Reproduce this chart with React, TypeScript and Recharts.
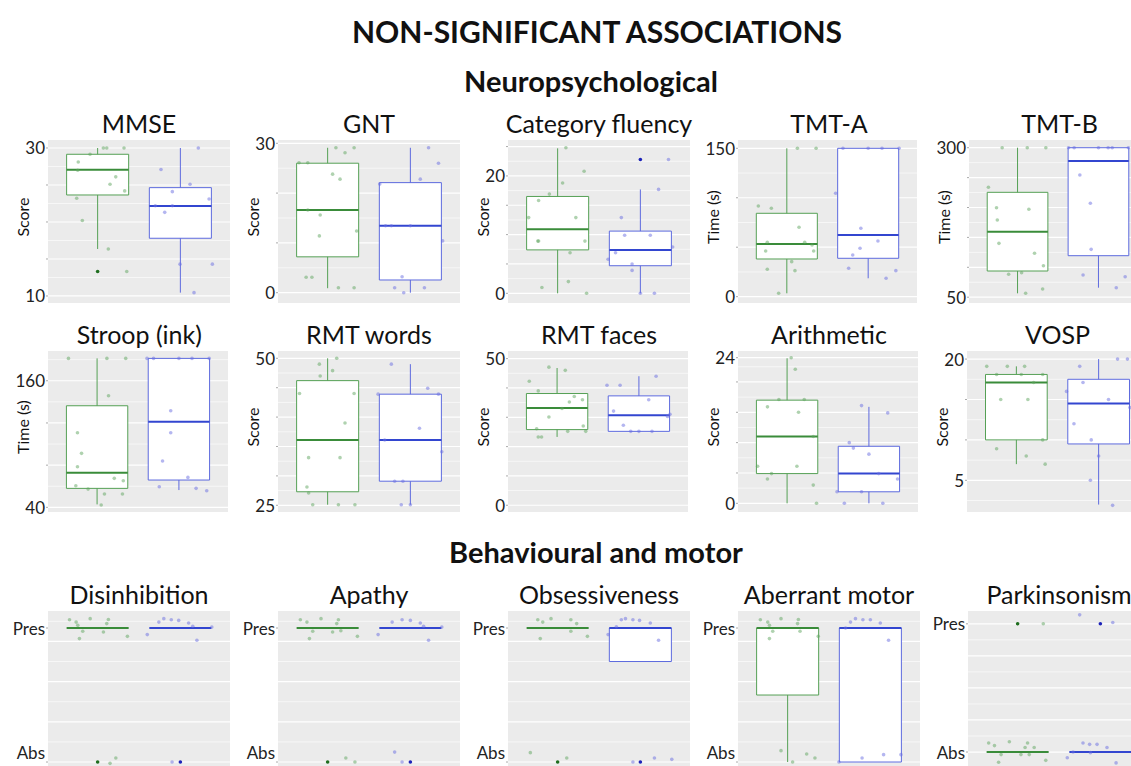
import React from 'react';
import {
  ComposedChart,
  Scatter,
  XAxis,
  YAxis,
  CartesianGrid,
  ReferenceArea,
  ReferenceLine,
} from 'recharts';

// box stats per group: [lowWhisker, q1, median, q3, highWhisker]
type Box = [number, number, number, number, number];
// jittered point: [offset from group centre, value]
type Pt = [number, number];
// outlier: [group (1|2), value]
type Out = [number, number];

// ---------- Neuropsychological ----------
const mmseBoxes: Box[] = [[16.35, 23.65, 27.07, 29.15, 30], [10.45, 17.8, 22.16, 24.64, 30]];
const mmseGreen: Pt[] = [[-0.234, 28.1], [-0.092, 29.15], [-0.241, 27.0], [0.219, 26.1], [0.15, 25.1], [0.327, 24.2], [-0.253, 23.2], [-0.185, 20.2], [0.129, 16.35], [0.352, 13.3], [0.069, 30], [0.11, 30], [0.319, 30]];
const mmseBlue: Pt[] = [[0.217, 30], [-0.234, 27.1], [0.117, 25.1], [-0.097, 24.1], [0.347, 23.1], [-0.303, 22.2], [-0.097, 22.2], [-0.189, 21.3], [-0.004, 14.3], [0.387, 14.3], [0.165, 10.45]];
const mmseOut: Out[] = [[1, 13.3]];

const gntBoxes: Box[] = [[0.9, 7.2, 16.6, 26.0, 29.1], [0, 2.55, 13.45, 22.1, 29.1]];
const gntGreen: Pt[] = [[-0.346, 26.1], [-0.24, 26.1], [0.1, 29.1], [0.21, 28.1], [0.32, 29.1], [0.06, 23.8], [0.15, 22.8], [-0.24, 16.6], [-0.09, 15.6], [-0.1, 11.4], [0.35, 12.4], [-0.26, 3.1], [-0.19, 3.1], [0.13, 1.0], [0.32, 1.0]];
const gntBlue: Pt[] = [[0.22, 29.1], [0.34, 26.0], [0.12, 22.8], [-0.37, 21.8], [-0.3, 13.45], [-0.23, 13.45], [0, 13.45], [0.39, 10.4], [-0.1, 3.2], [-0.19, 1.0], [-0.08, 0], [0.17, 1.0]];
const gntOut: Out[] = [];

const fluBoxes: Box[] = [[0, 7.4, 10.9, 16.5, 24.7], [0, 4.7, 7.4, 10.6, 17.7]];
const fluGreen: Pt[] = [[0.1, 24.8], [0.32, 20.8], [0.06, 18.8], [-0.1, 16.9], [-0.23, 15.8], [-0.35, 12.9], [0.22, 12.9], [-0.24, 8.9], [-0.23, 8.9], [0.33, 8.9], [0.15, 6.9], [0.13, 2.0], [-0.19, 1.0], [0.35, 0]];
const fluBlue: Pt[] = [[0.34, 22.8], [0.22, 17.7], [-0.23, 12.9], [-0.19, 9.9], [0.12, 9.9], [0.39, 7.9], [-0.3, 6.9], [-0.39, 5.8], [-0.1, 5.0], [-0.1, 3.9], [0, 0], [0.17, 0]];
const fluOut: Out[] = [[2, 22.8]];

const tmtaBoxes: Box[] = [[3.4, 38.1, 53.3, 84.3, 150], [18.6, 38.8, 62.4, 150, 150]];
const tmtaGreen: Pt[] = [[0.13, 150], [0.36, 150], [-0.35, 91.7], [-0.19, 89.4], [0.15, 70.2], [-0.24, 55], [0.22, 55], [0.31, 52.3], [-0.26, 46.2], [0.33, 46.2], [0.06, 35.4], [-0.24, 27.7], [0.1, 26.3], [-0.1, 3.4]];
const tmtaBlue: Pt[] = [[-0.31, 150], [0, 150], [0.17, 150], [0.38, 150], [-0.4, 104.5], [-0.09, 69.2], [0.12, 56.3], [-0.1, 48.9], [-0.19, 42.2], [-0.24, 28.7], [0.22, 18.6], [0.34, 26.3]];
const tmtaOut: Out[] = [];

const tmtbBoxes: Box[] = [[56.5, 93.8, 159.5, 225.4, 300], [65.9, 119.4, 277.8, 300, 300]];
const tmtbGreen: Pt[] = [[-0.19, 300], [0.12, 300], [0.35, 300], [-0.36, 233.8], [-0.26, 199.7], [0.14, 197], [-0.25, 179.1], [-0.23, 140.1], [0.21, 123.4], [0.32, 102.7], [-0.11, 88.3], [0.05, 91], [0.1, 56.5], [0.31, 63.7]];
const tmtbBlue: Pt[] = [[-0.37, 300], [-0.3, 300], [0, 300], [0.12, 300], [0.17, 300], [0.37, 300], [-0.23, 254.3], [-0.1, 207], [-0.09, 130], [-0.19, 87.1], [0.33, 84.3], [0.22, 65.9]];
const tmtbOut: Out[] = [];

const stroopBoxes: Box[] = [[42.8, 58.0, 72.8, 136.3, 181.2], [56.4, 65.9, 121.1, 181.2, 181.2]];
const stroopGreen: Pt[] = [[-0.35, 181.2], [0.12, 181.2], [0.35, 181.2], [0.14, 145.8], [-0.24, 110.7], [-0.19, 91.2], [-0.24, 78.5], [0.21, 67.5], [0.32, 65.2], [-0.26, 60.5], [-0.11, 57.3], [0.09, 52.6], [0.31, 52.6], [0.05, 42.2]];
const stroopBlue: Pt[] = [[-0.39, 181.2], [-0.31, 181.2], [0, 181.2], [0.16, 181.2], [0.37, 181.2], [-0.1, 131.6], [-0.1, 110.7], [-0.2, 83.9], [0.11, 68.4], [-0.24, 59.5], [0.21, 58], [0.34, 55.7]];
const stroopOut: Out[] = [];

const rmtwBoxes: Box[] = [[25.1, 27.3, 36.1, 46.2, 50], [25.1, 29.1, 36.1, 43.9, 49.0]];
const rmtwGreen: Pt[] = [[-0.1, 49], [0.11, 50], [0.06, 47.9], [-0.09, 47], [-0.34, 44], [0.32, 44], [0.21, 39], [-0.23, 33.1], [0.15, 33.1], [-0.25, 28.1], [-0.23, 27.1], [-0.18, 25.1], [0.13, 25.1], [0.33, 25.1]];
const rmtwBlue: Pt[] = [[-0.23, 49], [0.21, 44.9], [-0.39, 43.9], [0.34, 43.9], [0.11, 38.1], [-0.31, 36.1], [0.38, 34.1], [-0.19, 29.1], [-0.09, 29.1], [-0.11, 25.1], [0, 25.1]];
const rmtwOut: Out[] = [];

const rmtfBoxes: Box[] = [[23.3, 25.8, 33.2, 38.1, 46.8], [25.2, 25.2, 30.7, 37.3, 44.0]];
const rmtfGreen: Pt[] = [[-0.1, 47.1], [0.1, 46.0], [-0.34, 42.3], [-0.23, 39], [0.21, 37.1], [0.15, 35.2], [0.31, 36], [0.06, 33], [-0.1, 30.1], [-0.25, 26.1], [0.32, 27], [0.13, 25.2], [0.35, 25.2], [-0.23, 23.3], [-0.19, 23.3]];
const rmtfBlue: Pt[] = [[-0.39, 40.9], [-0.23, 40.9], [0.21, 44], [0.12, 36], [-0.31, 32.1], [0.38, 31], [0.35, 30.3], [-0.19, 27.3], [-0.1, 25.2], [0, 25.2], [0.16, 25.2]];
const rmtfOut: Out[] = [];

const arithBoxes: Box[] = [[0, 4.9, 11.0, 17.0, 23.9], [0, 1.9, 4.9, 9.4, 15.9]];
const arithGreen: Pt[] = [[0.05, 24], [0.1, 22.1], [-0.1, 17.1], [0.21, 17.1], [-0.24, 15.9], [0.14, 15], [0.32, 11], [-0.36, 6.1], [0.12, 6.1], [-0.19, 4.9], [-0.24, 4], [0.32, 3], [0.36, 0]];
const arithBlue: Pt[] = [[-0.09, 16.1], [0.23, 14.9], [-0.24, 10], [-0.19, 9.1], [0, 8.1], [0.12, 4.9], [0.35, 4], [-0.39, 1.9], [-0.09, 1.9], [-0.3, 0], [0.17, 0]];
const arithOut: Out[] = [];

const vospBoxes: Box[] = [[7.0, 10.0, 17.1, 18.1, 19.1], [2.0, 9.5, 14.5, 17.5, 20]];
const vospGreen: Pt[] = [[-0.36, 19.1], [-0.11, 19.1], [0.1, 19.1], [-0.24, 18.1], [0.06, 18.1], [0.32, 18.1], [0.21, 17.1], [-0.19, 15], [0.14, 15], [0.32, 10], [-0.24, 8.9], [0.12, 8], [0.35, 7]];
const vospBlue: Pt[] = [[0.23, 20], [0.35, 20], [-0.23, 19.1], [-0.19, 17.1], [-0.39, 16], [0.12, 15], [0.38, 14], [-0.3, 12], [-0.09, 10], [0, 8], [-0.1, 5], [0.17, 1.9]];
const vospOut: Out[] = [];

// ---------- Behavioural and motor (0 = Abs, 1 = Pres) ----------
const disBoxes: Box[] = [[1, 1, 1, 1, 1], [1, 1, 1, 1, 1]];
const disGreen: Pt[] = [[-0.34, 1.062], [-0.26, 1.044], [-0.24, 1.02], [-0.09, 1.07], [0.13, 1.064], [0.11, 1.033], [-0.18, 0.976], [0.07, 0.97], [-0.22, 0.921], [0.36, 0.938], [0.15, -0.01], [0.22, 0.03]];
const disBlue: Pt[] = [[-0.4, 0.951], [-0.26, 1.044], [-0.2, 1.07], [-0.11, 1.062], [-0.02, 1.057], [0.1, 1.037], [0.15, 1.013], [0.38, 1.007], [0.2, 0.909], [-0.1, 0]];
const disOut: Out[] = [[1, 0], [2, 0]];

const apaBoxes: Box[] = [[1, 1, 1, 1, 1], [1, 1, 1, 1, 1]];
const apaGreen: Pt[] = [[-0.33, 1.062], [-0.25, 1.044], [-0.18, 0.976], [-0.08, 1.07], [0.13, 1.062], [0.11, 1.033], [0.16, 0.98], [0.06, 0.97], [-0.22, 0.921], [0.36, 0.938], [0.22, 0.03], [0.33, 0]];
const apaBlue: Pt[] = [[-0.39, 0.951], [-0.22, 1.044], [-0.1, 1.062], [0, 1.057], [0.12, 1.037], [0.16, 1.013], [0.38, 1.007], [0.22, 0.909], [-0.19, 0.074], [-0.1, 0]];
const apaOut: Out[] = [[1, 0], [2, 0]];

const obsBoxes: Box[] = [[1, 1, 1, 1, 1], [0.75, 0.75, 1, 1, 1]];
const obsGreen: Pt[] = [[-0.24, 1.062], [-0.18, 1.044], [-0.21, 0.921], [-0.08, 1.07], [0.16, 1.062], [0.23, 1.033], [0.16, 0.976], [0.36, 0.938], [-0.33, 0.07], [0.11, 0.03]];
const obsBlue: Pt[] = [[-0.39, 0.951], [-0.29, 1.01], [-0.23, 1.062], [-0.18, 1.07], [-0.09, 1.062], [-0.01, 1.057], [0.12, 1.037], [0.22, 0.909], [-0.09, 0], [0.17, 0.03], [0.38, 0.02]];
const obsOut: Out[] = [[1, 0], [2, 0]];

const abmBoxes: Box[] = [[0, 0.5, 1, 1, 1], [0, 0, 1, 1, 1]];
const abmGreen: Pt[] = [[-0.33, 1.062], [-0.24, 1.044], [-0.22, 1.02], [-0.08, 1.07], [0.13, 1.064], [0.12, 1.033], [-0.18, 0.976], [0.15, 0.976], [-0.22, 0.921], [0.37, 0.938], [-0.08, 0.085], [0.06, 0], [0.23, 0.06], [0.33, 0.03]];
const abmBlue: Pt[] = [[-0.3, 1.0], [-0.24, 1.044], [-0.18, 1.07], [-0.09, 1.062], [0, 1.062], [0.12, 1.037], [0.22, 0.909], [-0.38, 0], [-0.1, 0.03], [0.16, 0.055], [0.37, 0.055]];
const abmOut: Out[] = [];

const parkBoxes: Box[] = [[0, 0, 0, 0, 0], [0, 0, 0, 0, 0]];
const parkGreen: Pt[] = [[0.31, 1.0], [-0.35, 0.07], [-0.28, 0.05], [-0.2, -0.02], [-0.1, 0.08], [-0.23, -0.08], [0.12, 0.07], [0.09, 0.035], [0.2, 0.035], [0.04, -0.02], [0.14, -0.02], [0.34, -0.065]];
const parkBlue: Pt[] = [[-0.25, 1.07], [0.15, 1.01], [-0.4, -0.045], [-0.33, 0], [-0.21, 0.07], [-0.13, 0.06], [-0.04, 0.06], [0.08, 0.035], [-0.12, -0.005], [0.19, -0.085]];
const parkOut: Out[] = [[1, 1], [2, 1]];

// ---------- colours / layout ----------
const GREEN = '#55a055';
const GREEN_MED = '#3a8c3a';
const BLUE = '#5d6ade';
const BLUE_MED = '#3346d0';
const GREEN_PT = 'rgba(95,165,95,0.5)';
const BLUE_PT = 'rgba(105,110,225,0.5)';
const GREEN_OUT = '#1f6e1f';
const BLUE_OUT = '#1c22b8';
const PANEL_BG = '#EBEBEB';
const FONT = 'Lato, "Open Sans", sans-serif';
const Y_W = 46;
const X_H = 8;
const PAD_T = 12;
const HALF = 0.375;

interface Panel {
  title: string;
  yLabel?: string;
  boxes: Box[];
  green: Pt[];
  blue: Pt[];
  out: Out[];
  domain: [number, number];
  major: number[];
  minor: number[];
  labels: Record<string, string>;
  labelShift?: Record<string, number>;
  left: number;
  top: number;
  w: number;
  h: number;
}

const steps = (a: number, b: number, s: number) => {
  const r: number[] = [];
  for (let v = a; v <= b + 1e-9; v += s) r.push(Math.round(v * 1000) / 1000);
  return r;
};

const R1 = 140, R1H = 163, R2 = 351, R2H = 161, R3 = 611, R3H = 160;
const binMajor = [0, 0.3, 0.6, 0.9];
const binMinor = [0.15, 0.45, 0.75, 1.05];
const binLabels = { '1': 'Pres', '0': 'Abs' };

const panels: Panel[] = [
  { title: 'MMSE', yLabel: 'Score', boxes: mmseBoxes, green: mmseGreen, blue: mmseBlue, out: mmseOut, domain: [9.05, 31.08], major: steps(10, 30, 5), minor: steps(12.5, 27.5, 5), labels: { '30': '30', '10': '10' }, left: 48, top: R1, w: 182, h: R1H },
  { title: 'GNT', yLabel: 'Score', boxes: gntBoxes, green: gntGreen, blue: gntBlue, out: gntOut, domain: [-2.07, 30.66], major: steps(0, 30, 10), minor: steps(5, 25, 10), labels: { '30': '30', '0': '0' }, left: 278, top: R1, w: 182, h: R1H },
  { title: 'Category fluency', yLabel: 'Score', boxes: fluBoxes, green: fluGreen, blue: fluBlue, out: fluOut, domain: [-1.65, 26.12], major: steps(0, 25, 5), minor: steps(2.5, 22.5, 5), labels: { '20': '20', '0': '0' }, left: 508, top: R1, w: 182, h: R1H },
  { title: 'TMT-A', yLabel: 'Time (s)', boxes: tmtaBoxes, green: tmtaGreen, blue: tmtaBlue, out: tmtaOut, domain: [-6.4, 158.4], major: steps(0, 150, 50), minor: steps(25, 125, 50), labels: { '150': '150', '0': '0' }, left: 738, top: R1, w: 179, h: R1H },
  { title: 'TMT-B', yLabel: 'Time (s)', boxes: tmtbBoxes, green: tmtbGreen, blue: tmtbBlue, out: tmtbOut, domain: [40.3, 312.9], major: steps(50, 300, 50), minor: steps(75, 275, 50), labels: { '300': '300', '50': '50' }, left: 968.7, top: R1, w: 178, h: R1H },

  { title: 'Stroop (ink)', yLabel: 'Time (s)', boxes: stroopBoxes, green: stroopGreen, blue: stroopBlue, out: stroopOut, domain: [35.6, 188.2], major: steps(40, 160, 40), minor: steps(60, 180, 40), labels: { '160': '160', '40': '40' }, left: 48.3, top: R2, w: 180, h: R2H },
  { title: 'RMT words', yLabel: 'Score', boxes: rmtwBoxes, green: rmtwGreen, blue: rmtwBlue, out: rmtwOut, domain: [23.86, 51.24], major: steps(25, 50, 5), minor: steps(27.5, 47.5, 5), labels: { '50': '50', '25': '25' }, left: 278, top: R2, w: 182, h: R2H },
  { title: 'RMT faces', yLabel: 'Score', boxes: rmtfBoxes, green: rmtfGreen, blue: rmtfBlue, out: rmtfOut, domain: [-2.3, 52.6], major: steps(0, 50, 10), minor: steps(5, 45, 10), labels: { '50': '50', '0': '0' }, left: 508, top: R2, w: 180, h: R2H },
  { title: 'Arithmetic', yLabel: 'Score', boxes: arithBoxes, green: arithGreen, blue: arithBlue, out: arithOut, domain: [-1.43, 25.1], major: [0, 5, 10, 15, 20, 24], minor: steps(2.5, 22.5, 5), labels: { '24': '24', '0': '0' }, left: 738, top: R2, w: 180, h: R2H },
  { title: 'VOSP', yLabel: 'Score', boxes: vospBoxes, green: vospGreen, blue: vospBlue, out: vospOut, domain: [1.08, 21.0], major: steps(5, 20, 5), minor: steps(2.5, 17.5, 5), labels: { '20': '20', '5': '5' }, left: 966.6, top: R2, w: 181, h: R2H },

  { title: 'Disinhibition', boxes: disBoxes, green: disGreen, blue: disBlue, out: disOut, domain: [-0.067, 1.127], major: binMajor, minor: binMinor, labels: binLabels, labelShift: { '0': -10 }, left: 48, top: R3, w: 182, h: R3H },
  { title: 'Apathy', boxes: apaBoxes, green: apaGreen, blue: apaBlue, out: apaOut, domain: [-0.067, 1.127], major: binMajor, minor: binMinor, labels: binLabels, labelShift: { '0': -10 }, left: 278, top: R3, w: 182, h: R3H },
  { title: 'Obsessiveness', boxes: obsBoxes, green: obsGreen, blue: obsBlue, out: obsOut, domain: [-0.067, 1.127], major: binMajor, minor: binMinor, labels: binLabels, labelShift: { '0': -10 }, left: 508, top: R3, w: 182, h: R3H },
  { title: 'Aberrant motor', boxes: abmBoxes, green: abmGreen, blue: abmBlue, out: abmOut, domain: [-0.067, 1.127], major: binMajor, minor: binMinor, labels: binLabels, labelShift: { '0': -10 }, left: 738, top: R3, w: 182, h: R3H },
  { title: 'Parkinsonism', boxes: parkBoxes, green: parkGreen, blue: parkBlue, out: parkOut, domain: [-0.148, 1.1], major: [0, 0.25, 0.5, 0.75, 1], minor: [0.125, 0.375, 0.625, 0.875], labels: binLabels, left: 968, top: R3, w: 182, h: R3H },
];

const dot = (fill: string) => (props: any) => (
  <circle cx={props.cx} cy={props.cy} r={1.8} fill={fill} />
);

function BoxPlot({ p }: { p: Panel }) {
  const isBinary = p.labels['1'] === 'Pres';
  const ticks = isBinary ? [0, 1] : p.major.filter((v) => v <= p.domain[1]);
  const green = p.green.map(([dx, y]) => ({ x: 1 + dx, y }));
  const blue = p.blue.map(([dx, y]) => ({ x: 2 + dx, y }));
  const outG = p.out.filter((o) => o[0] === 1).map(([g, y]) => ({ x: g, y }));
  const outB = p.out.filter((o) => o[0] === 2).map(([g, y]) => ({ x: g, y }));

  const renderTick = (props: any) => {
    const key = String(props.payload.value);
    const label = p.labels[key];
    if (!label) return <g />;
    const shift = p.labelShift?.[key] ?? 0;
    return (
      <text x={props.x} y={props.y + shift} textAnchor="end" dominantBaseline="central" fontSize={17} fill="#222" fontFamily={FONT}>
        {label}
      </text>
    );
  };

  const groups = [
    { g: 1, box: p.boxes[0], col: GREEN, med: GREEN_MED },
    { g: 2, box: p.boxes[1], col: BLUE, med: BLUE_MED },
  ];

  return (
    <div style={{ position: 'absolute', left: p.left - Y_W, top: p.top - PAD_T }}>
      <ComposedChart width={Y_W + p.w} height={p.h + X_H + PAD_T} margin={{ top: PAD_T, right: 0, bottom: 0, left: 0 }}>
        <CartesianGrid fill={PANEL_BG} stroke="#fff" strokeWidth={0.6} horizontalValues={p.minor} vertical={false} />
        <CartesianGrid stroke="#fff" strokeWidth={1.2} horizontalValues={p.major} verticalValues={[1, 2]} />
        <XAxis type="number" dataKey="x" domain={[0.4, 2.6]} ticks={[1, 2]} tick={false} tickSize={3} axisLine={false} tickLine={{ stroke: '#aaa' }} height={X_H} allowDataOverflow />
        <YAxis
          type="number"
          dataKey="y"
          domain={p.domain}
          ticks={ticks}
          interval={0}
          allowDataOverflow
          axisLine={false}
          width={Y_W}
          tickSize={2}
          tickMargin={1}
          tickLine={{ stroke: '#aaa' }}
          tick={renderTick}
        />
        {groups.map(({ g, box, col }) => (
          <ReferenceArea key={`b${g}`} x1={g - HALF} x2={g + HALF} y1={box[1]} y2={box[3]} fill="#fff" fillOpacity={1} stroke={col} strokeWidth={1} ifOverflow="visible" />
        ))}
        {groups.map(({ g, box, col }) => (
          <ReferenceLine key={`wh${g}`} segment={[{ x: g, y: box[3] }, { x: g, y: box[4] }]} stroke={col} strokeWidth={1} ifOverflow="visible" />
        ))}
        {groups.map(({ g, box, col }) => (
          <ReferenceLine key={`wl${g}`} segment={[{ x: g, y: box[0] }, { x: g, y: box[1] }]} stroke={col} strokeWidth={1} ifOverflow="visible" />
        ))}
        {groups.map(({ g, box, med }) => (
          <ReferenceLine key={`m${g}`} segment={[{ x: g - HALF, y: box[2] }, { x: g + HALF, y: box[2] }]} stroke={med} strokeWidth={2} ifOverflow="visible" />
        ))}
        <Scatter data={green} shape={dot(GREEN_PT)} isAnimationActive={false} />
        <Scatter data={blue} shape={dot(BLUE_PT)} isAnimationActive={false} />
        <Scatter data={outG} shape={dot(GREEN_OUT)} isAnimationActive={false} />
        <Scatter data={outB} shape={dot(BLUE_OUT)} isAnimationActive={false} />
      </ComposedChart>
    </div>
  );
}

function Text({ x, y, size, bold, children, rotate }: { x: number; y: number; size: number; bold?: boolean; children: React.ReactNode; rotate?: boolean }) {
  return (
    <div
      style={{
        position: 'absolute',
        left: x,
        top: y,
        transform: `translate(-50%, -50%)${rotate ? ' rotate(-90deg)' : ''}`,
        fontSize: size,
        fontWeight: bold ? 700 : 400,
        whiteSpace: 'nowrap',
        color: '#111',
        lineHeight: 1,
      }}
    >
      {children}
    </div>
  );
}

export default function App() {
  return (
    <div style={{ position: 'absolute', left: 0, top: 0, width: 1131, height: 766, overflow: 'hidden', background: '#fff', fontFamily: FONT }}>
      <Text x={597} y={31} size={30} bold>NON-SIGNIFICANT ASSOCIATIONS</Text>
      <Text x={591} y={80} size={29} bold>Neuropsychological</Text>
      <Text x={596} y={551} size={29} bold>Behavioural and motor</Text>
      {panels.map((p) => (
        <React.Fragment key={p.title}>
          <Text x={p.left + 91} y={p.top - 17} size={25}>{p.title}</Text>
          {p.yLabel && (
            <Text x={p.left - 25} y={p.top + p.h * 0.47} size={16} rotate>{p.yLabel}</Text>
          )}
          <BoxPlot p={p} />
        </React.Fragment>
      ))}
    </div>
  );
}
